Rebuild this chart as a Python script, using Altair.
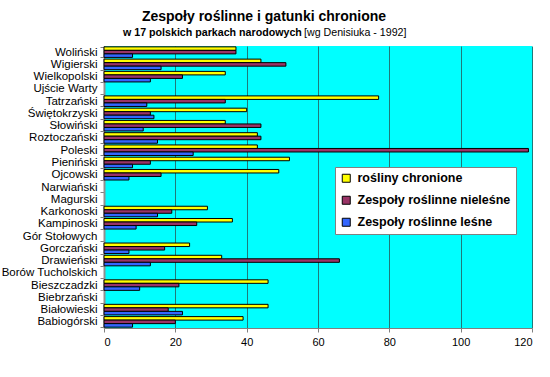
import altair as alt
import pandas as pd

title_text = "Zespoły roślinne i gatunki chronione"
subtitle_bold = "w 17 polskich parkach narodowych"
subtitle_normal = "[wg Denisiuka - 1992]"

categories = ["Woliński", "Wigierski", "Wielkopolski", "Ujście Warty", "Tatrzański",
              "Świętokrzyski", "Słowiński", "Roztoczański", "Poleski", "Pieniński",
              "Ojcowski", "Narwiański", "Magurski", "Karkonoski", "Kampinoski",
              "Gór Stołowych", "Gorczański", "Drawieński", "Borów Tucholskich",
              "Bieszczadzki", "Biebrzański", "Białowieski", "Babiogórski"]

series_names = ["rośliny chronione", "Zespoły roślinne nieleśne", "Zespoły roślinne leśne"]
series_colors = ["#FFFF00", "#993366", "#3366FF"]

chronione = [37, 44, 34, None, 77, 40, 34, 43, 43, 52, 49, None, None, 29, 36, None, 24, 33, None, 46, None, 46, 39]
nielesne = [37, 51, 22, None, 34, 13, 44, 44, 119, 13, 16, None, None, 19, 26, None, 17, 66, None, 21, None, 18, 20]
lesne = [8, 16, 13, None, 12, 14, 11, 15, 25, 8, 7, None, None, 15, 9, None, 7, 13, None, 10, None, 22, 8]

x_ticks = [0, 20, 40, 60, 80, 100, 120]

rows = []
for name, vals in zip(series_names, [chronione, nielesne, lesne]):
    for cat, v in zip(categories, vals):
        if v is not None:
            rows.append({"park": cat, "seria": name, "wartosc": v})
df = pd.DataFrame(rows)

FONT = "Liberation Sans"

bars = alt.Chart(df).mark_bar(stroke="black", strokeWidth=1).encode(
    x=alt.X("wartosc:Q",
            scale=alt.Scale(domain=[0, 120], nice=False),
            axis=alt.Axis(values=x_ticks, title=None, grid=True, gridColor="#1f7a7a",
                          gridWidth=1, domainColor="#808080", tickColor="#808080",
                          tickSize=4, labelPadding=4, labelFontSize=11, labelFont=FONT,
                          labelColor="black", format="d")),
    y=alt.Y("park:N",
            scale=alt.Scale(domain=categories, paddingInner=0.14, paddingOuter=0.07),
            axis=alt.Axis(title=None, tickBand="extent", tickSize=4, tickColor="#808080",
                          domainColor="#909090", domainWidth=2, labelPadding=3,
                          labelFontSize=11.5, labelFont=FONT, labelColor="black",
                          labelLimit=200)),
    yOffset=alt.YOffset("seria:N",
                        scale=alt.Scale(domain=series_names, paddingInner=0, paddingOuter=0)),
    fill=alt.Fill("seria:N",
                  scale=alt.Scale(domain=series_names, range=series_colors),
                  legend=alt.Legend(title=None, orient="none", legendX=231, legendY=121,
                                    fillColor="white", strokeColor="#808080", padding=5,
                                    symbolType="square", symbolSize=64,
                                    symbolStrokeColor="black", symbolStrokeWidth=1,
                                    labelFont=FONT, labelFontSize=12.5, labelFontWeight="bold",
                                    labelColor="black", labelLimit=300, labelOffset=5,
                                    rowPadding=9)),
)

t_title = alt.Chart(pd.DataFrame({"t": [title_text]})).mark_text(
    font=FONT, fontSize=14, fontWeight="bold", align="center", baseline="alphabetic",
    color="black"
).encode(text="t:N", x=alt.value(160), y=alt.value(-25))

t_sub1 = alt.Chart(pd.DataFrame({"t": [subtitle_bold]})).mark_text(
    font=FONT, fontSize=10.67, fontWeight="bold", align="left", baseline="alphabetic",
    color="black"
).encode(text="t:N", x=alt.value(19), y=alt.value(-10.5))

t_sub2 = alt.Chart(pd.DataFrame({"t": [subtitle_normal]})).mark_text(
    font=FONT, fontSize=10.67, fontWeight="normal", align="left", baseline="alphabetic",
    color="black"
).encode(text="t:N", x=alt.value(200), y=alt.value(-10.5))

chart = alt.layer(bars, t_title, t_sub1, t_sub2).properties(
    width=428, height=282,
    autosize=alt.AutoSizeParams(type="none"),
    padding={"left": 104, "top": 46, "right": 18, "bottom": 49},
    background="white",
).configure_view(fill="#00FFFF", stroke=None)

chart.save("out.html", embed_options={"renderer": "svg", "actions": False})
